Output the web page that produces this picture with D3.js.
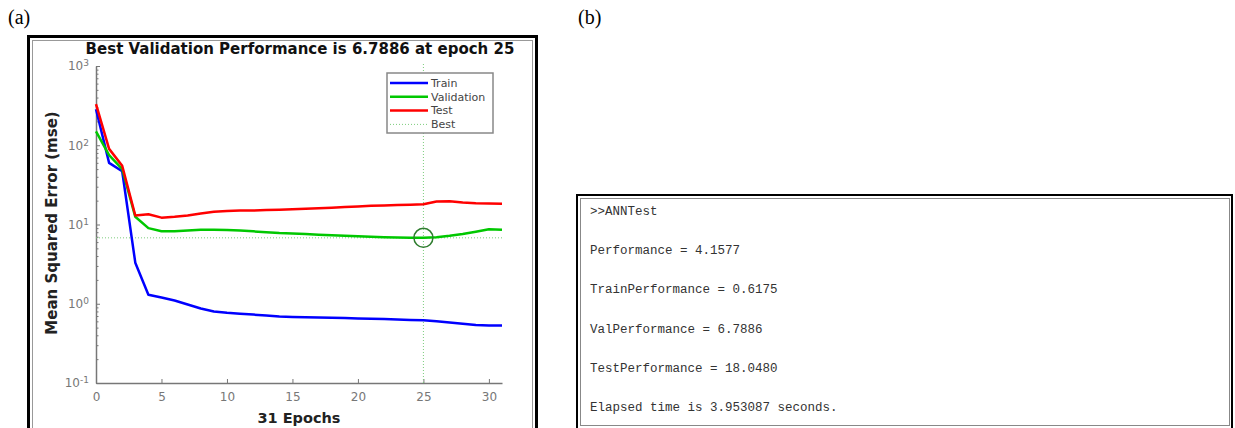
<!DOCTYPE html>
<html>
<head>
<meta charset="utf-8">
<script src="https://cdn.jsdelivr.net/npm/d3@7"></script>
<style>
  html, body { margin: 0; padding: 0; background: #fff; }
  svg { display: block; }
</style>
</head>
<body>
<svg id="fig" width="1235" height="428"></svg>
<script>
  // Curvas de entrenamiento (mse por época)
  const epocas = d3.range(0, 32);
  const train = [285, 60, 47, 3.3, 1.3, 1.2, 1.1, 0.98, 0.87, 0.8, 0.77, 0.75, 0.73, 0.71, 0.69, 0.68,
    0.675, 0.67, 0.665, 0.66, 0.65, 0.645, 0.64, 0.635, 0.625, 0.6175, 0.60, 0.58, 0.56, 0.54, 0.53, 0.53];
  const validation = [150, 75, 50, 12.5, 9.0, 8.2, 8.2, 8.4, 8.6, 8.6, 8.5, 8.4, 8.2, 8.0, 7.8, 7.7,
    7.6, 7.45, 7.3, 7.2, 7.1, 7.0, 6.9, 6.85, 6.8, 6.7886, 6.9, 7.2, 7.6, 8.1, 8.7, 8.6];
  const test = [330, 90, 55, 13, 13.5, 12.2, 12.5, 13, 13.8, 14.5, 14.8, 15, 15, 15.2, 15.4, 15.6,
    15.8, 16, 16.3, 16.6, 16.9, 17.2, 17.4, 17.6, 17.8, 18.048, 19.5, 19.6, 19, 18.6, 18.4, 18.3];
  const mejorEpoca = 25;
  const mejorValor = 6.7886;

  const series = ['Train', 'Validation', 'Test'];
  const xTicks = [0, 5, 10, 15, 20, 25, 30];
  const yExponentes = [-1, 0, 1, 2, 3];

  // Salida de consola del panel (b)
  const consola = [
    '>>ANNTest',
    'Performance = 4.1577',
    'TrainPerformance = 0.6175',
    'ValPerformance = 6.7886',
    'TestPerformance = 18.0480',
    'Elapsed time is 3.953087 seconds.',
  ];

  const COLORES = { Train: '#0000ff', Validation: '#00c800', Test: '#ff0000' };
  const datos = { Train: train, Validation: validation, Test: test };

  const svg = d3.select('#fig');

  // Etiquetas (a) y (b)
  svg.append('text').attr('x', 8).attr('y', 24)
    .attr('font-family', 'Liberation Serif, serif').attr('font-size', 20).text('(a)');
  svg.append('text').attr('x', 578).attr('y', 24)
    .attr('font-family', 'Liberation Serif, serif').attr('font-size', 20).text('(b)');

  // Marco del panel (a)
  svg.append('rect').attr('x', 28.5).attr('y', 36.5).attr('width', 508).attr('height', 400)
    .attr('fill', 'none').attr('stroke', '#000').attr('stroke-width', 3);
  svg.append('rect').attr('x', 32.5).attr('y', 40.5).attr('width', 500).attr('height', 400)
    .attr('fill', 'none').attr('stroke', '#999').attr('stroke-width', 1);

  const plot = { left: 96, right: 502, top: 66, bottom: 383 };

  const x = d3.scaleLinear().domain([0, 31]).range([plot.left, plot.right]);
  const y = d3.scaleLog().domain([0.1, 1000]).range([plot.bottom, plot.top]);

  const g = svg.append('g').attr('font-family', 'DejaVu Sans, sans-serif');

  // Ejes
  const ejeX = g.append('g')
    .attr('transform', `translate(0,${plot.bottom})`)
    .call(d3.axisBottom(x).tickValues(xTicks).tickSizeInner(-4).tickSizeOuter(0).tickPadding(9));
  ejeX.selectAll('text').attr('font-size', 12).attr('fill', '#777').attr('font-family', 'DejaVu Sans, sans-serif');

  const menores = [];
  yExponentes.slice(0, -1).forEach((e) => {
    for (let k = 2; k <= 9; k++) menores.push(k * Math.pow(10, e));
  });
  g.append('g')
    .attr('transform', `translate(${plot.left},0)`)
    .call(d3.axisLeft(y).tickValues(menores).tickSizeInner(-2.5).tickSizeOuter(0).tickFormat(''))
    .call((s) => s.select('.domain').remove());

  const ejeY = g.append('g')
    .attr('transform', `translate(${plot.left},0)`)
    .call(d3.axisLeft(y).tickValues(yExponentes.map((e) => Math.pow(10, e)))
      .tickSizeInner(-4).tickSizeOuter(0).tickPadding(7).tickFormat(''));
  ejeY.selectAll('.tick').each(function (d) {
    const t = d3.select(this).append('text')
      .attr('x', -7).attr('dy', '0.32em').attr('text-anchor', 'end')
      .attr('fill', '#777').attr('font-size', 12).attr('font-family', 'DejaVu Sans, sans-serif');
    t.append('tspan').text('10');
    t.append('tspan').attr('dy', '-0.45em').attr('font-size', 9).text(String(Math.round(Math.log10(d))));
  });

  g.selectAll('.domain').attr('stroke', '#777').attr('stroke-width', 1.5);
  g.selectAll('.tick line').attr('stroke', '#777');

  // Líneas de mejor época
  g.append('line')
    .attr('x1', x(0)).attr('x2', x(31)).attr('y1', y(mejorValor)).attr('y2', y(mejorValor))
    .attr('stroke', '#7ccc7c').attr('stroke-width', 1).attr('stroke-dasharray', '1,2');
  g.append('line')
    .attr('x1', x(mejorEpoca)).attr('x2', x(mejorEpoca)).attr('y1', y(1000) - 2).attr('y2', y(0.1))
    .attr('stroke', '#7ccc7c').attr('stroke-width', 1).attr('stroke-dasharray', '1,2');

  // Curvas
  const linea = d3.line().x((d, i) => x(epocas[i])).y((d) => y(d));
  series.forEach((s) => {
    g.append('path').datum(datos[s])
      .attr('d', linea).attr('fill', 'none')
      .attr('stroke', COLORES[s]).attr('stroke-width', 2.5).attr('stroke-linejoin', 'round');
  });

  g.append('circle')
    .attr('cx', x(mejorEpoca)).attr('cy', y(mejorValor)).attr('r', 9.5)
    .attr('fill', 'none').attr('stroke', '#2f7d2f').attr('stroke-width', 1.5);

  // Leyenda
  const ley = g.append('g').attr('transform', 'translate(387,73)');
  ley.append('rect').attr('width', 106).attr('height', 60)
    .attr('fill', '#fff').attr('stroke', '#888').attr('stroke-width', 1.5);
  const filas = series.concat(['Best']);
  filas.forEach((s, i) => {
    const yy = 10 + i * 13.8;
    const l = ley.append('line').attr('x1', 3).attr('x2', 41).attr('y1', yy).attr('y2', yy);
    if (s === 'Best') {
      l.attr('stroke', '#7ccc7c').attr('stroke-width', 1).attr('stroke-dasharray', '1,2');
    } else {
      l.attr('stroke', COLORES[s]).attr('stroke-width', 2.5);
    }
    ley.append('text').attr('x', 44).attr('y', yy).attr('dy', '0.35em')
      .attr('font-size', 11).attr('fill', '#444').text(s);
  });

  // Título y rótulos
  g.append('text').attr('x', 300).attr('y', 54).attr('text-anchor', 'middle')
    .attr('font-size', 15).attr('font-weight', 'bold').attr('fill', '#111')
    .text(`Best Validation Performance is ${mejorValor} at epoch ${mejorEpoca}`);
  g.append('text').attr('x', 299).attr('y', 423).attr('text-anchor', 'middle')
    .attr('font-size', 14.5).attr('font-weight', 'bold').attr('fill', '#222')
    .text(`${epocas.length - 1} Epochs`);
  g.append('text').attr('transform', 'translate(57,223) rotate(-90)').attr('text-anchor', 'middle')
    .attr('font-size', 15).attr('font-weight', 'bold').attr('fill', '#222')
    .text('Mean Squared Error  (mse)');

  // Panel (b): consola
  svg.append('rect').attr('x', 577).attr('y', 195).attr('width', 655).attr('height', 245)
    .attr('fill', 'none').attr('stroke', '#000').attr('stroke-width', 2);
  svg.append('rect').attr('x', 580.5).attr('y', 198.5).attr('width', 649).attr('height', 227)
    .attr('fill', 'none').attr('stroke', '#888').attr('stroke-width', 1);

  svg.append('g').selectAll('text').data(consola).join('text')
    .attr('x', 590).attr('y', (d, i) => 215 + i * 39.2)
    .attr('font-family', 'Liberation Mono, Courier New, monospace')
    .attr('font-size', 12.5).attr('fill', '#333').attr('xml:space', 'preserve')
    .text((d) => d);
</script>
</body>
</html>
